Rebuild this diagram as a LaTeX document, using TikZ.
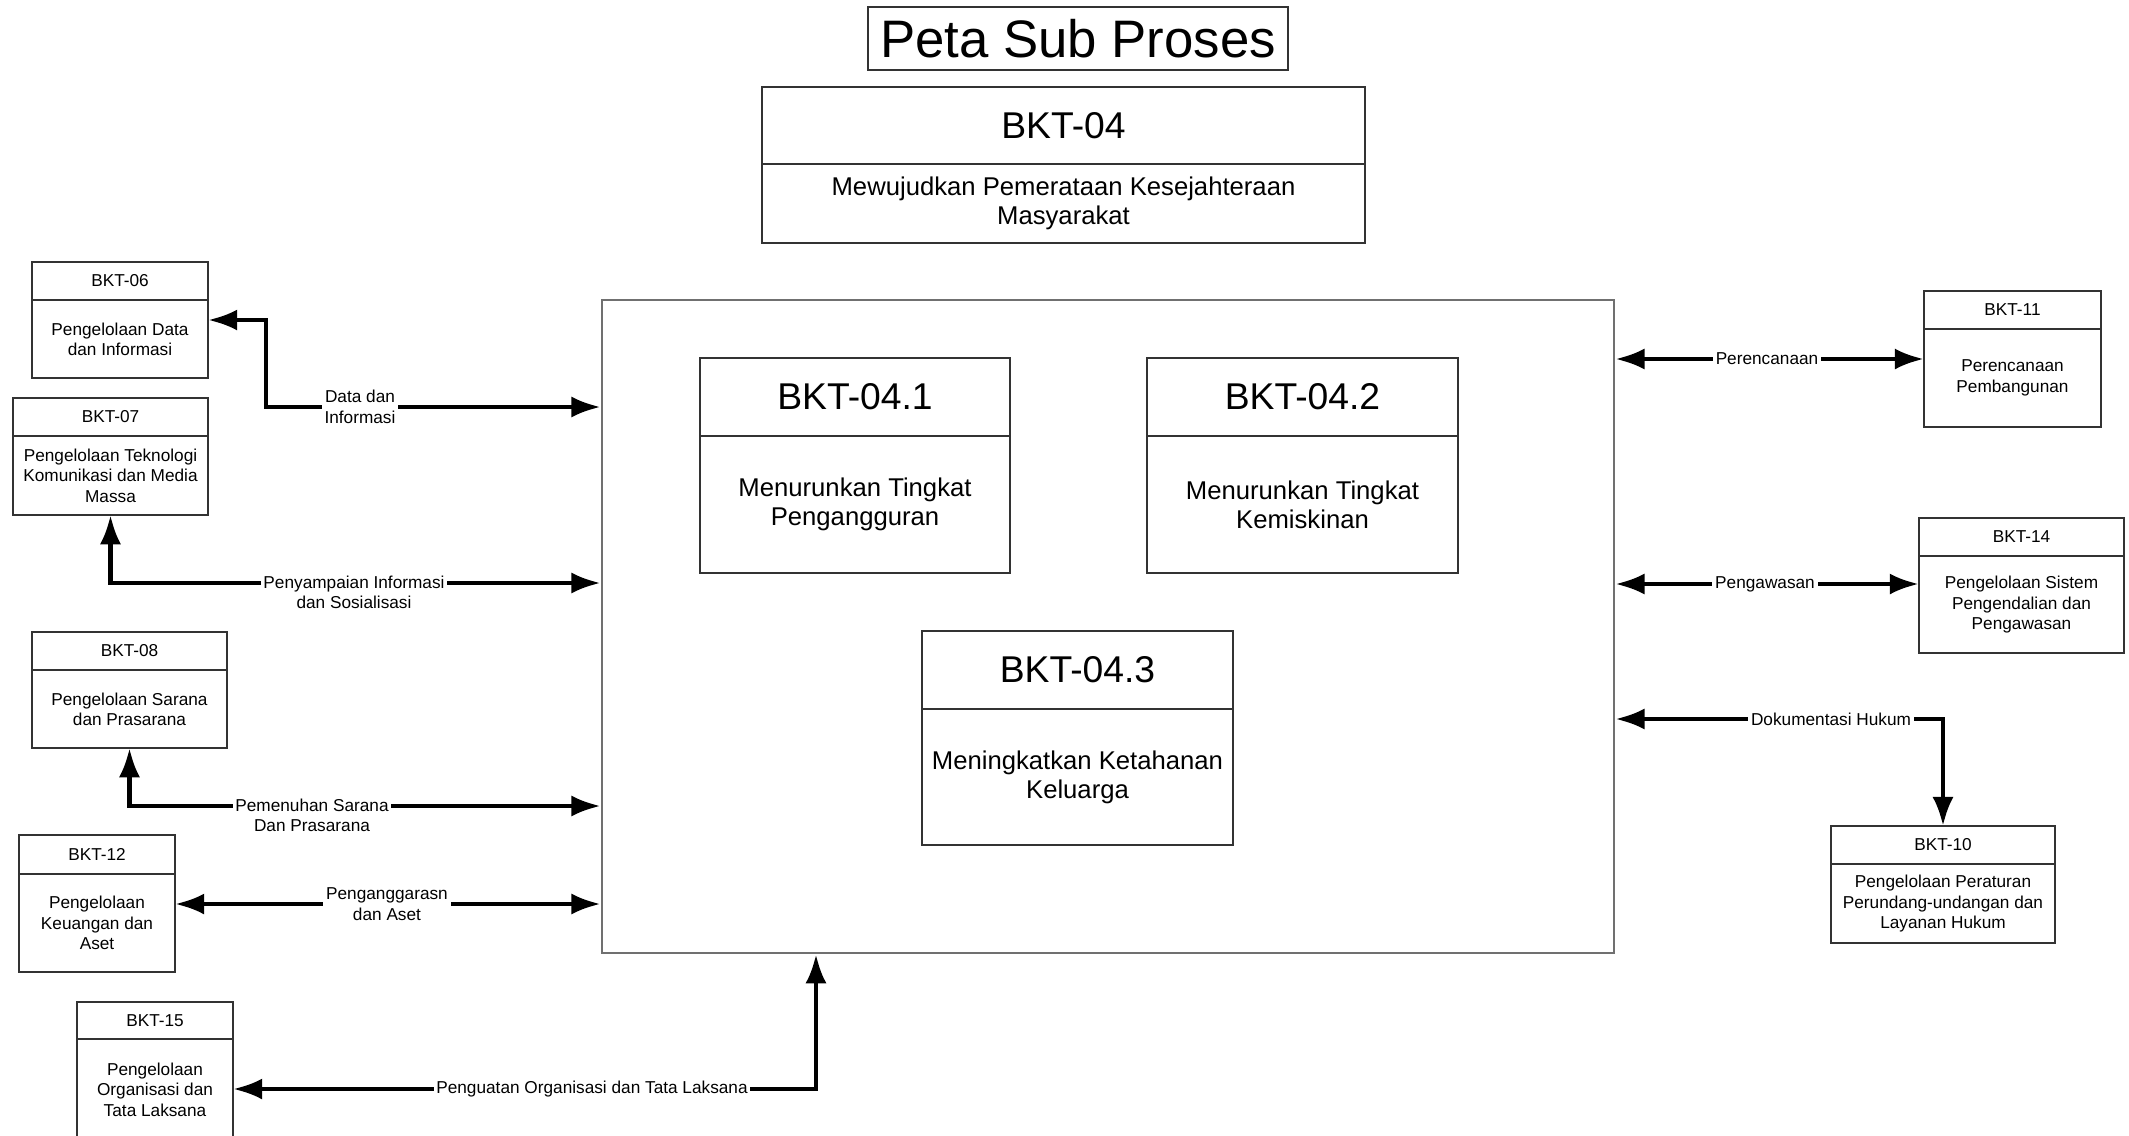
\documentclass[tikz,border=0pt]{standalone}
\usepackage{fontspec}
\setmainfont{Liberation Sans}
\usepackage{tikz}
\usetikzlibrary{positioning}
\usetikzlibrary{arrows.meta}

\definecolor{boxline}{HTML}{333333}
\definecolor{frameline}{HTML}{707070}

\tikzset{
    hdrbig/.style={draw=boxline, line width=0.6pt, outer sep=0pt, inner sep=2pt,
        font=\fontsize{10.6}{12}\selectfont},
    bodybig/.style={draw=boxline, line width=0.6pt, outer sep=0pt, inner sep=2pt,
        align=center, font=\fontsize{7.3}{8.2}\selectfont},
    hdrsmall/.style={draw=boxline, line width=0.6pt, outer sep=0pt, inner sep=1pt,
        font=\fontsize{4.9}{5.8}\selectfont},
    bodysmall/.style={draw=boxline, line width=0.6pt, outer sep=0pt, inner sep=1pt,
        align=center, font=\fontsize{4.9}{5.8}\selectfont},
    link/.style={line width=1.25pt,
        {Latex[length=8.3pt,width=6pt]}-{Latex[length=8.3pt,width=6pt]}},
    lbl/.style={fill=white, inner sep=0.8pt, align=center,
        font=\fontsize{4.9}{5.8}\selectfont},
}

% name, size, x, top, width, head height, body height, code, text
\newcommand{\bktbox}[9]{%
    \node[hdr#2, minimum width=#5, minimum height=#6, anchor=north] (#1h) at (#3,#4) {#8};
    \node[body#2, minimum width=#5, minimum height=#7, below=0pt of #1h] (#1) {#9};
}

\begin{document}
\begin{tikzpicture}[x=0.01cm, y=-0.01cm]
    \useasboundingbox (0,0) rectangle (2129,1136);

    \node[draw=boxline, line width=0.6pt, minimum width=4.2cm, minimum height=0.59cm,
        font=\fontsize{15}{17}\selectfont] (title) at (1078,38.5) {Peta Sub Proses};

    \bktbox{b04}{big}{1063.5}{87}{6.03cm}{0.77cm}{0.79cm}{BKT-04}
        {Mewujudkan Pemerataan Kesejahteraan\\Masyarakat}

    \node[draw=frameline, line width=0.6pt, minimum width=10.12cm, minimum height=6.53cm]
        (main) at (1108,626.5) {};

    \bktbox{b041}{big}{855}{358}{3.1cm}{0.78cm}{1.37cm}{BKT-04.1}
        {Menurunkan Tingkat\\Pengangguran}
    \bktbox{b042}{big}{1302.5}{358}{3.11cm}{0.78cm}{1.37cm}{BKT-04.2}
        {Menurunkan Tingkat\\Kemiskinan}
    \bktbox{b043}{big}{1077.5}{631}{3.11cm}{0.78cm}{1.36cm}{BKT-04.3}
        {Meningkatkan Ketahanan\\Keluarga}

    \bktbox{b06}{small}{120}{262}{1.76cm}{0.38cm}{0.78cm}{BKT-06}
        {Pengelolaan Data\\dan Informasi}
    \bktbox{b07}{small}{110.5}{398}{1.95cm}{0.38cm}{0.79cm}{BKT-07}
        {Pengelolaan Teknologi\\Komunikasi dan Media\\Massa}
    \bktbox{b08}{small}{129.5}{632}{1.95cm}{0.38cm}{0.78cm}{BKT-08}
        {Pengelolaan Sarana\\dan Prasarana}
    \bktbox{b12}{small}{97}{835}{1.56cm}{0.39cm}{0.98cm}{BKT-12}
        {Pengelolaan\\Keuangan dan\\Aset}
    \bktbox{b15}{small}{155}{1002}{1.56cm}{0.37cm}{1.01cm}{BKT-15}
        {Pengelolaan\\Organisasi dan\\Tata Laksana}
    \bktbox{b11}{small}{2012.5}{291}{1.77cm}{0.38cm}{0.98cm}{BKT-11}
        {Perencanaan\\Pembangunan}
    \bktbox{b14}{small}{2021.5}{518}{2.05cm}{0.38cm}{0.97cm}{BKT-14}
        {Pengelolaan Sistem\\Pengendalian dan\\Pengawasan}
    \bktbox{b10}{small}{1943}{826}{2.24cm}{0.38cm}{0.79cm}{BKT-10}
        {Pengelolaan Peraturan\\Perundang-undangan dan\\Layanan Hukum}

    % connectors
    \draw[link] (main.west |- 0,407) -| (266,320) -- (b06.east |- 0,320);
    \draw[link] (main.west |- 0,583) -| (b07.south);
    \draw[link] (main.west |- 0,806) -| (b08.south);
    \draw[link] (main.west |- 0,904) -- (b12.east |- 0,904);
    \draw[link] (main.south -| 816,0) |- (b15.east |- 0,1089);
    \draw[link] (main.east |- 0,359) -- (b11.west |- 0,359);
    \draw[link] (main.east |- 0,584) -- (b14.west |- 0,584);
    \draw[link] (main.east |- 0,719) -| (b10h.north);

    \node[lbl] (datainfo) at (360,407) {Data dan\\Informasi};
    \node[lbl, anchor=north] (sosial) at (354,572) {Penyampaian Informasi\\dan Sosialisasi};
    \node[lbl, anchor=north] (sarana) at (312,795) {Pemenuhan Sarana\\Dan Prasarana};
    \node[lbl] (anggaran) at (387,904) {Penganggarasn\\dan Aset};
    \node[lbl] (organisasi) at (592,1089) {Penguatan Organisasi dan Tata Laksana};
    \node[lbl] (rencana) at (1767,359) {Perencanaan};
    \node[lbl] (awas) at (1765,584) {Pengawasan};
    \node[lbl] (hukum) at (1831,719) {Dokumentasi Hukum};
\end{tikzpicture}
\end{document}
